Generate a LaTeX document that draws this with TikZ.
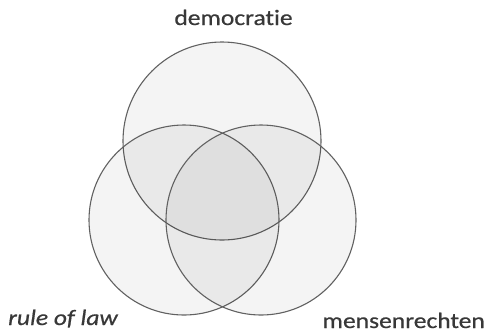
\documentclass[tikz,border=0pt]{standalone}
\usepackage{fontspec}
\setmainfont{Carlito}[FakeStretch=1.16,Ligatures=NoCommon,FakeBold=0.6]
\begin{document}
\begin{tikzpicture}[x=1pt,y=-1pt,
  setc/.style={circle,draw=black!62,line width=1.1pt,fill=black,fill opacity=0.045,draw opacity=1,inner sep=0pt},
  lbl/.style={font=\fontsize{22}{24}\selectfont,text=black!78,inner sep=0pt}]
\useasboundingbox (0,0) rectangle (489,333);
\node[setc,minimum size=198pt] (dem) at (222,141) {};
\node[setc,minimum size=190pt] (rol) at (184,220) {};
\node[setc,minimum size=190pt] (men) at (261,220) {};
\node[lbl,anchor=base] (tdem) at (233.5,25) {democratie};
\node[lbl,anchor=base west,font=\fontsize{22}{24}\selectfont\itshape] (trol) at (8,325) {rule of law};
\node[lbl,anchor=base east] (tmen) at (485,328) {mensenrechten};
\end{tikzpicture}
\end{document}
